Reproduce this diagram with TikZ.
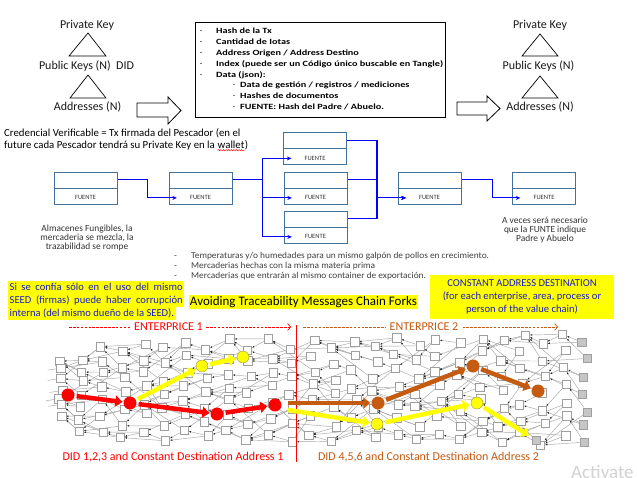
\documentclass[tikz,border=0pt]{standalone}
\usepackage{fontspec}
\setmainfont{Carlito}
\newfontfamily\boxfont[FakeStretch=1.28]{Carlito}
\newfontfamily\bulfont[FakeStretch=1.04]{Carlito}
\usetikzlibrary{arrows.meta,decorations.pathmorphing,calc}
\definecolor{boxblue}{HTML}{41719C}
\definecolor{rust}{HTML}{C55A11}
\definecolor{conblue}{HTML}{0000FF}
\definecolor{hiyel}{HTML}{FFFF00}
\definecolor{txtblue}{HTML}{1A1AD0}
\pgfdeclarelayer{bg}
\pgfsetlayers{bg,main}
\newcommand\setfs[1]{\fontsize{#1}{#1}\selectfont}
\begin{document}
\begin{tikzpicture}[x=1pt,y=-1pt,
  lbl/.style={inner sep=0pt,font=\setfs{12},text=black!90},
  tri/.style={draw=black,line width=0.7pt},
  blk/.style={draw=black,line width=0.8pt,fill=white},
  tline/.style={inner sep=0pt,anchor=west,font=\boxfont\setfs{8}\bfseries,text height=6pt,text depth=1.5pt},
  tdash/.style={inner sep=0pt,font=\setfs{8},text height=6pt,text depth=1.5pt},
  rec/.style={draw=boxblue,line width=1pt,minimum width=63pt,minimum height=32pt,inner sep=0pt},
  fu/.style={inner sep=0pt,font=\setfs{6.5},text=black!80},
  conn/.style={draw=conblue,line width=1.1pt,shorten >=13pt,-{Stealth[length=4.5pt,width=4pt]}},
  note/.style={inner sep=0pt,font=\setfs{9.4},text=black!80,align=center},
  bul/.style={inner sep=0pt,anchor=west,font=\bulfont\setfs{9},text=black!75,text height=6.5pt,text depth=2pt},
  sq/.style={draw=gray!75,fill=white,line width=0.5pt,minimum size=8.5pt,inner sep=0pt},
  tipsq/.style={sq,fill=gray!45},
  edge/.style={draw=gray!70,line width=0.45pt,-{Latex[length=2.3pt,width=1.8pt,color=black!85]}},
  edgeplain/.style={draw=gray!70,line width=0.45pt},
  rdot/.style={circle,fill=red,minimum size=13pt,inner sep=0pt},
  ydot/.style={circle,fill=hiyel,draw=yellow!55!black,line width=0.4pt,minimum size=12pt,inner sep=0pt},
  bdot/.style={circle,fill=rust,minimum size=13pt,inner sep=0pt},
  redarr/.style={draw=red,line width=4.5pt,shorten <=2pt,shorten >=1pt,-{Triangle[length=7pt,width=11pt]}},
  yelarr/.style={draw=hiyel,line width=4.5pt,shorten <=2pt,shorten >=1pt,-{Triangle[length=7pt,width=11pt]}},
  brarr/.style={draw=rust,line width=4.5pt,shorten <=2pt,shorten >=1pt,-{Triangle[length=7pt,width=11pt]}},
  entl/.style={line width=0.7pt,dash pattern=on 2.6pt off 1.3pt},
]
\useasboundingbox (0,0) rectangle (637,477);
\begin{pgfonlayer}{bg}
\fill[white] (0,0) rectangle (637,477);
\end{pgfonlayer}

% ---------- left key tree
\node[lbl] (pk1) at (87,25) {Private Key};
\node[lbl] (pub1) at (86.5,66) {Public Keys (N)\ \ DID};
\node[lbl] (ad1) at (87.5,107) {Addresses (N)};
\draw[tri] (88,33) -- (69,56) -- (106,56) -- cycle;
\draw[tri] (88,75) -- (70,98) -- (106,98) -- cycle;
\draw[blk] (137,103) -- (168,103) -- (168,97) -- (181,110.5) -- (168,124) -- (168,117) -- (137,117) -- cycle;

% ---------- right key tree
\node[lbl] (pk2) at (540,25) {Private Key};
\node[lbl] (pub2) at (538.5,66) {Public Keys (N)};
\node[lbl] (ad2) at (540,107) {Addresses (N)};
\draw[tri] (540,34) -- (522,56) -- (558,56) -- cycle;
\draw[tri] (540,76) -- (522,98) -- (558,98) -- cycle;
\draw[blk] (457,102) -- (487,102) -- (487,96) -- (500,108.5) -- (487,121) -- (487,115) -- (457,115) -- cycle;

% ---------- info box
\node[draw,line width=1pt,minimum width=250pt,minimum height=95pt,inner sep=0pt] (info) at (320,69.5) {};
\node[tdash] (d1) at (201,31) {-};
\node[tdash] (d2) at (201,42) {-};
\node[tdash] (d3) at (201,53) {-};
\node[tdash] (d4) at (201,64) {-};
\node[tdash] (d5) at (201,75) {-};
\node[tdash] (d6) at (234,85.5) {-};
\node[tdash] (d7) at (234,96.5) {-};
\node[tdash] (d8) at (234,107) {-};
\node[tline] (i1) at (216,31) {Hash de la Tx};
\node[tline] (i2) at (216,42) {Cantidad de Iotas};
\node[tline] (i3) at (216,53) {Address Origen / Address Destino};
\node[tline] (i4) at (216,64) {Index (puede ser un Código único buscable en Tangle)};
\node[tline] (i5) at (216,75) {Data (json):};
\node[tline] (i6) at (240,85.5) {Data de gestión / registros / mediciones};
\node[tline] (i7) at (240,96.5) {Hashes de documentos};
\node[tline] (i8) at (240,107) {FUENTE: Hash del Padre / Abuelo.};

% ---------- credencial text
\node[inner sep=0pt,anchor=west,font=\setfs{10.8},text height=7pt,text depth=2pt] (cv1) at (4,133.5) {Credencial Verificable = Tx firmada del Pescador (en el};
\node[inner sep=0pt,anchor=west,font=\setfs{10.8},text height=7pt,text depth=2pt] (cv2) at (4,145.5) {future cada Pescador tendrá su Private Key en la};
\node[inner sep=0pt,anchor=base west,font=\setfs{10.8}] (wal) at ([xshift=2.45pt]cv2.base east) {wallet};
\node[inner sep=0pt,anchor=base west,font=\setfs{10.8}] (wpar) at (wal.base east) {)};
\draw[red,line width=0.4pt,decorate,decoration={snake,amplitude=0.7pt,segment length=2.6pt}] ([yshift=-2.2pt]wal.base west) -- ([yshift=-2.2pt]wal.base east);

% ---------- records
\foreach \n/\px/\py in {A/85.5/188, B/200.5/188, C1/315/148.5, C2/315.5/188, C3/315.5/227, D/429.5/188, E/544/188}{
  \node[rec] (\n) at (\px,\py) {};
  \draw[draw=boxblue,line width=1pt] (\n.west) -- (\n.east);
  \node[fu] (\n-f) at ($(\n.center)!0.6!(\n.south)$) {FUENTE};
}
\draw[conn] ($(A.north east)!0.5!(A.east)$) -- ++(30,0) |- (B-f.west);
\draw[conn] ($(B.north east)!0.5!(B.east)$) -- ++(30,0) |- (C1-f.west);
\draw[conn] ($(B.north east)!0.5!(B.east)$) -- ++(30,0) |- (C2-f.west);
\draw[conn] ($(B.north east)!0.5!(B.east)$) -- ++(30,0) |- (C3-f.west);
\draw[conn] ($(C1.north east)!0.5!(C1.east)$) -- ++(30,0) |- (D-f.west);
\draw[conn] ($(C2.north east)!0.5!(C2.east)$) -- ++(29.5,0) |- (D-f.west);
\draw[conn] ($(C3.north east)!0.5!(C3.east)$) -- ++(29.5,0) |- (D-f.west);
\draw[conn] ($(D.north east)!0.5!(D.east)$) -- ++(31,0) |- (E-f.west);

\node[note] (alm) at (87,238) {\baselineskip=11.5pt Almacenes Fungibles, la\\mercaderia se mezcla, la\\trazabilidad se rompe};
\node[note] (ave) at (545,230) {\baselineskip=11pt A veces será necesario\\que la FUNTE indique\\Padre y Abuelo};

% ---------- bullet notes
\node[bul] (b1d) at (174,256) {-};
\node[bul] (b2d) at (174,266) {-};
\node[bul] (b3d) at (174,276) {-};
\node[bul] (b1) at (191,256) {Temperaturas y/o humedades para un mismo galpón de pollos en crecimiento.};
\node[bul] (b2) at (191,266) {Mercaderias hechas con la misma materia prima};
\node[bul] (b3) at (191,276) {Mercaderias que entrarán al mismo container de exportación.};

% ---------- yellow notes
\node[fill=hiyel,anchor=west,inner xsep=1.5pt,inner ysep=0pt,text height=9pt,text depth=4pt,font=\setfs{10.6},text=txtblue] (s1) at (8,287.5) {\makebox[173pt][s]{Si se confía sólo en el uso del mismo}};
\node[fill=hiyel,anchor=west,inner xsep=1.5pt,inner ysep=0pt,text height=9pt,text depth=4pt,font=\setfs{10.6},text=txtblue] (s2) at (8,300.5) {\makebox[173pt][s]{SEED (firmas) puede haber corrupción}};
\node[fill=hiyel,anchor=west,inner xsep=1.5pt,inner ysep=0pt,text height=9pt,text depth=4pt,font=\setfs{10.6},text=txtblue] (s3) at (8,313.5) {interna (del mismo dueño de la SEED).};

\node[fill=hiyel,inner xsep=1pt,inner ysep=1.5pt,font=\setfs{13}] (avoid) at (303.5,302) {Avoiding Traceability Messages Chain Forks};

\node[fill=hiyel,text=txtblue,align=center,font=\fontsize{10.6}{13}\selectfont,minimum width=184pt,minimum height=44pt,inner sep=0pt] (cad) at (522,297) {CONSTANT ADDRESS DESTINATION\\(for each enterprise, area, process or\\person of the value chain)};

% ---------- tangle
\pgfmathsetseed{7}
\foreach \c in {0,...,25}{
  \foreach \r in {0,...,6}{
    \pgfmathsetmacro\mysp{min(14+0.12*\c,9+2.5*\c)}
    \pgfmathsetmacro\myx{60+21*\c+3.5*rand}
    \pgfmathsetmacro\myy{391-0.1*\c+(\r-3)*\mysp+mod(\c,2)*7-3.5+3*rand}
    \ifnum\c=25
      \node[tipsq] (t-\c-\r) at (\myx,\myy) {};
    \else
      \node[sq] (t-\c-\r) at (\myx,\myy) {};
    \fi
  }
}
\node[tipsq] (tipy) at (536,440) {};
\begin{pgfonlayer}{bg}
\foreach \c in {1,...,25}{
  \pgfmathtruncatemacro\pc{\c-1}
  \pgfmathtruncatemacro\qc{max(\c-2,0)}
  \foreach \r in {0,...,6}{
    \pgfmathtruncatemacro\ra{max(0,min(6,\r+round(1.4*rand)))}
    \pgfmathtruncatemacro\rb{max(0,min(6,\r+round(2.4*rand)))}
    \draw[edge] (t-\c-\r) -- (t-\pc-\ra);
    \draw[edge] (t-\c-\r) -- (t-\qc-\rb);
  }
}
\draw[edge] (tipy) -- (t-23-6);
\foreach \r in {1,...,5}{
  \coordinate (st-\r) at ($(t-0-\r)+(-13,2)$);
  \draw[edgeplain] (t-0-\r) -- (st-\r);
}
\end{pgfonlayer}

% ---------- enterprise markers
\coordinate (vtop) at (296,325);
\coordinate (vbot) at (296,462);
\draw[red,line width=0.6pt] (vtop) -- (vbot);
\node[inner sep=0pt,font=\setfs{12},text=red] (e1) at (168.5,327) {ENTERPRICE 1};
\coordinate (e1a) at (69,327);
\coordinate (e1b) at (291,327);
\draw[red,entl] (e1a) -- ([xshift=-3pt]e1.west);
\draw[red,entl,-{Straight Barb[length=3pt,width=7pt]}] ([xshift=3pt]e1.east) -- (e1b);
\node[inner sep=0pt,font=\setfs{12},text=rust] (e2) at (424,327) {ENTERPRICE 2};
\coordinate (e2a) at (303,327);
\coordinate (e2b) at (558,327);
\draw[rust,entl] (e2a) -- ([xshift=-3pt]e2.west);
\draw[rust,entl,-{Straight Barb[length=3pt,width=7pt]}] ([xshift=4pt]e2.east) -- (e2b);
\node[inner sep=0pt,font=\setfs{12},text=red] (did1) at (173,457) {DID 1,2,3 and Constant Destination Address 1};
\node[inner sep=0pt,font=\setfs{12},text=rust] (did2) at (428.5,457) {DID 4,5,6 and Constant Destination Address 2};

% ---------- chains
\node[rdot] (r1) at (68,395) {};
\node[rdot] (r2) at (130,403) {};
\node[rdot] (r3) at (217,414) {};
\node[rdot] (r4) at (275,405) {};
\node[ydot] (y1) at (202,366) {};
\node[ydot] (y2) at (243,357) {};
\node[bdot] (bb1) at (378,403) {};
\node[bdot] (bb2) at (473,366) {};
\node[bdot] (bb3) at (538,391) {};
\node[ydot] (y3) at (377,424) {};
\node[ydot] (y4) at (477,403) {};
\draw[redarr] (r1) -- (r2);
\draw[redarr] (r2) -- (r3);
\draw[redarr] (r3) -- (r4);
\draw[yelarr] (r2) -- (y1);
\draw[yelarr] (y1) -- (y2);
\draw[brarr,shorten <=6pt] ([yshift=2pt]r4.east) -- (bb1);
\draw[brarr] (bb1) -- (bb2);
\draw[brarr] (bb2) -- (bb3);
\draw[yelarr,shorten <=6pt] ([yshift=-4pt]r4.east) -- (y3);
\draw[yelarr] (y3) -- (y4);
\draw[yelarr,shorten >=3pt] (y4) -- (tipy);

\node[inner sep=0pt,anchor=west,font=\setfs{19},text=gray!35] (act) at (571,472) {Activate};
\end{tikzpicture}
\end{document}
